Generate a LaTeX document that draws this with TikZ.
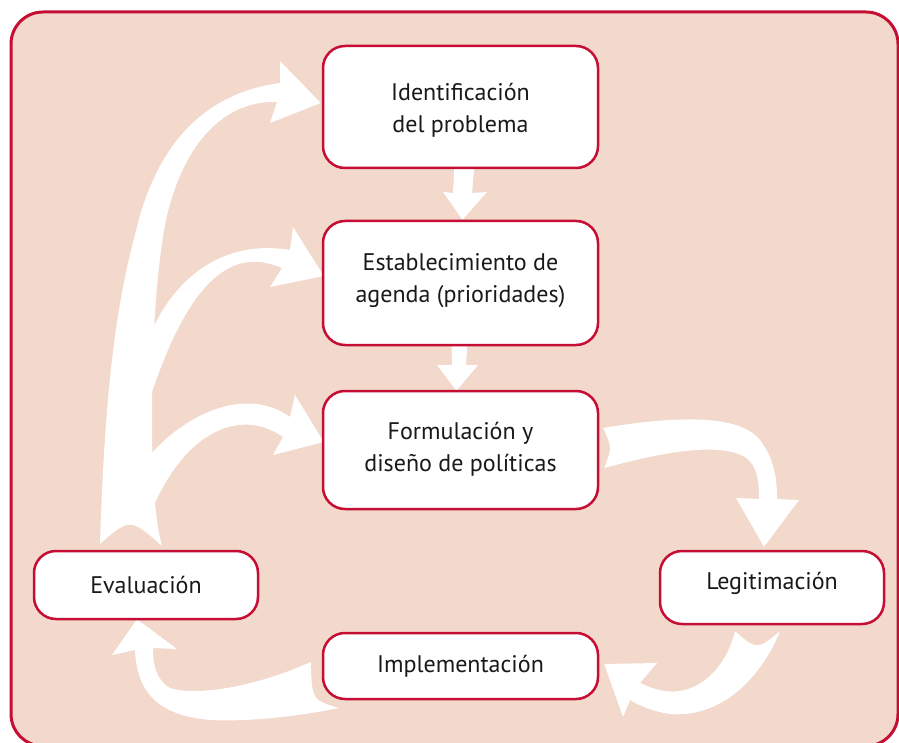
\documentclass[tikz,border=0pt]{standalone}
\usepackage{fontspec}
\setmainfont{PT Sans}
\usetikzlibrary{calc}
\definecolor{crim}{RGB}{198,14,52}
\definecolor{bgsal}{RGB}{242,217,204}
\definecolor{txt}{RGB}{25,25,25}
\pgfdeclarelayer{bgl}
\pgfdeclarelayer{flows}
\pgfsetlayers{bgl,flows,main}
\tikzset{
  box/.style={draw=crim, line width=2.5pt, fill=white, rounded corners=22pt,
    align=center, text=txt, inner sep=0pt,
    font=\fontsize{24}{32}\selectfont},
  flow/.style={fill=white, draw=none},
}
\begin{document}
\begin{tikzpicture}[x=1pt,y=-1pt]
\useasboundingbox (0,0) rectangle (899,743);
\clip (0,0) rectangle (899,743);
% nodes
\node[box, minimum width=275pt, minimum height=122pt] (ident) at (460.5,107) {};
\node[text=txt, align=center, font=\fontsize{24}{32}\selectfont] (identt) at (460.5,110) {Identificación\\del problema};
\node[box, minimum width=275pt, minimum height=124pt] (estab) at (460.5,283) {};
\node[text=txt, align=center, font=\fontsize{24}{32}\selectfont] (estabt) at (460.5,281) {Establecimiento de\\agenda (prioridades)};
\node[box, minimum width=275pt, minimum height=118pt] (form) at (460.5,450) {};
\node[text=txt, align=center, font=\fontsize{24}{32}\selectfont] (formt) at (460.5,449) {Formulación y\\diseño de políticas};
\node[box, minimum width=224pt, minimum height=68pt] (eval) at (146,585) {Evaluación};
\node[box, minimum width=224pt, minimum height=73pt] (legit) at (772,587.5) {};
\node[text=txt, font=\fontsize{24}{32}\selectfont] (legitt) at (772,583) {Legitimación};
\node[box, minimum width=275pt, minimum height=66pt] (impl) at (460.5,666) {Implementación};
\begin{pgfonlayer}{bgl}
\draw[crim, line width=3pt, fill=bgsal, rounded corners=32pt] (11,12) rectangle (898,746);
\end{pgfonlayer}
\begin{pgfonlayer}{flows}
% Identificacion -> Establecimiento
\fill[flow] ($(ident.south)+(-6,-4)$) -- ($(ident.south)+(14,-4)$) -- (472,193) -- (487,192)
  -- ($(estab.north)+(2,0)$) -- (443,192) -- (453,193) -- cycle;
% Establecimiento -> Formulacion
\fill[flow] ($(estab.south)+(-9,-4)$) -- ($(estab.south)+(7,-4)$) -- (466,365) -- (478,365)
  -- ($(form.north)+(-4,1)$) -- (437,365) -- (452,365) -- cycle;
% Formulacion -> Legitimacion
\fill[flow] ($(form.east)+(4,-22)$) .. controls (680,415) and (740,415) .. (760,440)
  .. controls (775,460) and (777,480) .. (777,499) -- (799,500)
  -- ($(legit.north)+(-8,-3)$) -- (736,498) -- (759,499)
  .. controls (759,480) and (757,465) .. (745,457)
  .. controls (720,443) and (670,450) .. ($(form.east)+(5,18)$)
  .. controls (612,448) .. ($(form.east)+(4,-22)$) -- cycle;
% Legitimacion -> Implementacion
\fill[flow] ($(legit.south)+(8,6)$) .. controls (760,680) and (720,718) .. (670,714)
  .. controls (655,712) and (640,706) .. (630,700) -- (623,717)
  -- ($(impl.east)+(5,-2)$) -- (657,663) -- (640,683)
  .. controls (655,690) and (670,694) .. (685,690)
  .. controls (710,683) and (728,660) .. ($(legit.south)+(-37,6)$)
  .. controls (757,650) .. ($(legit.south)+(8,6)$) -- cycle;
% Implementacion -> Evaluacion
\fill[flow] ($(impl.west)+(-11,-4)$) .. controls (260,685) and (200,697) .. (170,688)
  .. controls (156,680) and (153,665) .. (153,648) -- (177,649)
  -- ($(eval.south)+(-9,-1)$) -- (112,655) -- (135,650)
  .. controls (137,690) and (155,715) .. (210,720)
  .. controls (250,722) and (300,716) .. ($(impl.west)+(17,42)$)
  .. controls (312,700) .. ($(impl.west)+(-11,-4)$) -- cycle;
% Evaluacion -> Identificacion (trunk)
\fill[flow] ($(eval.north)+(-46,-6)$) .. controls (104,420) and (112,320) .. (135,235)
  .. controls (152,160) and (192,95) .. (280,83) -- (280,61)
  -- ($(ident.west)+(-1,-4)$) -- (270,123) -- (277,102)
  .. controls (220,100) and (180,150) .. (165,225)
  .. controls (155,280) and (152,350) .. (152,420)
  .. controls (152,480) and (155,520) .. ($(eval.north)+(16,-4)$)
  .. controls (130,518) .. ($(eval.north)+(-46,-6)$) -- cycle;
% Evaluacion -> Establecimiento (branch)
\fill[flow] (152,330) .. controls (180,270) and (230,240) .. (290,250) -- (293,227)
  -- ($(estab.west)+(2,-7)$) -- (270,287) -- (282,268)
  .. controls (240,250) and (195,265) .. (152,392) -- (140,392) -- (140,330) -- cycle;
% Evaluacion -> Formulacion (branch)
\fill[flow] (150,455) .. controls (185,415) and (245,385) .. (290,417) -- (295,395)
  -- ($(form.west)+(2,-8)$) -- (273,455) -- (283,437)
  .. controls (245,410) and (190,425) .. (154,505) -- (140,505) -- (140,455) -- cycle;
\end{pgfonlayer}
\end{tikzpicture}
\end{document}
